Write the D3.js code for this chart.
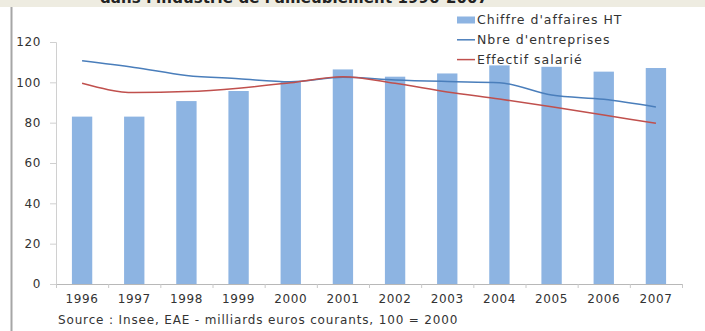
<!DOCTYPE html>
<html>
<head>
<meta charset="utf-8">
<script src="https://cdn.jsdelivr.net/npm/d3@7"></script>
<style>
  body { margin: 0; background: #fff; }
  svg { display: block; font-family: "DejaVu Sans", sans-serif; }
</style>
</head>
<body>
<div id="chart"></div>
<script>
// values (index, 100 = 2000)
const years = ["1996", "1997", "1998", "1999", "2000", "2001", "2002", "2003", "2004", "2005", "2006", "2007"];
const chiffreAffaires = [83, 83, 90.7, 95.7, 100.3, 106.4, 102.8, 104.4, 108.4, 107.7, 105.3, 107.1];
const nbreEntreprises = [110.7, 107.4, 103.4, 101.8, 100.3, 102.5, 101.2, 100.4, 99.8, 93.7, 91.6, 87.8];
const effectifSalarie = [99.5, 94.9, 95.4, 97.1, 99.8, 102.8, 99.5, 95.2, 91.7, 87.9, 83.8, 79.7];
const yTicks = [0, 20, 40, 60, 80, 100, 120];

const legendItems = [
  { label: "Chiffre d'affaires HT", color: "#8db4e2", type: "bar" },
  { label: "Nbre d'entreprises", color: "#4a7ebb", type: "line" },
  { label: "Effectif salarié", color: "#c0504d", type: "line" }
];

// set the dimensions of the chart
const width = 705;
const height = 331;
const margin = { top: 42, right: 23, bottom: 47, left: 56 };

const svg = d3.select("#chart")
  .append("svg")
  .attr("width", width)
  .attr("height", height);

// beige band and the cut-off title at the very top
svg.append("rect")
  .attr("x", 0).attr("y", 0)
  .attr("width", width).attr("height", 7)
  .attr("fill", "#eeece1");

svg.append("text")
  .attr("x", 100)
  .attr("y", 3)
  .attr("font-size", 15)
  .attr("font-weight", "bold")
  .attr("letter-spacing", "0.1px")
  .attr("fill", "#222")
  .text("dans l'industrie de l'ameublement 1996-2007");

// grey frame line on the left
svg.append("line")
  .attr("x1", 11.5).attr("x2", 11.5)
  .attr("y1", 7).attr("y2", height)
  .attr("stroke", "#a6a6a6")
  .attr("stroke-width", 2);

// scales
const x = d3.scaleBand()
  .domain(years)
  .range([margin.left, width - margin.right])
  .padding(0);

const xBar = d3.scaleBand()
  .domain(years)
  .range([margin.left, width - margin.right])
  .paddingInner(0.61)
  .paddingOuter(0.305);

const xEdge = d3.scaleLinear()
  .domain([0, years.length])
  .range([margin.left, width - margin.right]);

const y = d3.scaleLinear()
  .domain([0, 120])
  .range([height - margin.bottom, margin.top]);

// bars
svg.append("g")
  .selectAll("rect")
  .data(years)
  .join("rect")
  .attr("x", d => xBar(d))
  .attr("y", (d, i) => y(chiffreAffaires[i]))
  .attr("width", xBar.bandwidth())
  .attr("height", (d, i) => y(0) - y(chiffreAffaires[i]))
  .attr("fill", "#8db4e2");

// axes
const yAxis = svg.append("g")
  .attr("transform", `translate(${margin.left},0)`)
  .call(d3.axisLeft(y).tickValues(yTicks).tickSize(6).tickPadding(9));
yAxis.select(".domain").attr("stroke", "#d0d0d0");
yAxis.selectAll(".tick line").attr("stroke", "#d0d0d0");
yAxis.selectAll(".tick text")
  .attr("font-size", 12)
  .attr("letter-spacing", "0.6px")
  .attr("fill", "#333")
  .attr("font-family", "DejaVu Sans, sans-serif");

const xTicks = svg.append("g")
  .attr("transform", `translate(0,${y(0)})`)
  .call(d3.axisBottom(xEdge).tickValues(d3.range(years.length + 1)).tickSize(4).tickFormat(""));
xTicks.select(".domain").attr("stroke", "#b8b8b8");
xTicks.selectAll(".tick line").attr("stroke", "#c8c8c8");

const xAxis = svg.append("g")
  .attr("transform", `translate(0,${y(0)})`)
  .call(d3.axisBottom(x).tickSize(0).tickPadding(10));
xAxis.select(".domain").remove();
xAxis.selectAll(".tick text")
  .attr("font-size", 12)
  .attr("letter-spacing", "0.6px")
  .attr("fill", "#333")
  .attr("font-family", "DejaVu Sans, sans-serif");

// lines
const line = d3.line()
  .x((d, i) => x(years[i]) + x.bandwidth() / 2)
  .y(d => y(d))
  .curve(d3.curveMonotoneX);

svg.append("path")
  .datum(nbreEntreprises)
  .attr("d", line)
  .attr("fill", "none")
  .attr("stroke", "#4a7ebb")
  .attr("stroke-width", 1.5);

svg.append("path")
  .datum(effectifSalarie)
  .attr("d", line)
  .attr("fill", "none")
  .attr("stroke", "#c0504d")
  .attr("stroke-width", 1.5);

// legend
const legend = svg.append("g")
  .selectAll("g")
  .data(legendItems)
  .join("g")
  .attr("transform", (d, i) => `translate(457,${20 + i * 19.8})`);

legend.filter(d => d.type === "bar")
  .append("rect")
  .attr("x", 0).attr("y", -3.5)
  .attr("width", 18).attr("height", 7)
  .attr("fill", d => d.color);

legend.filter(d => d.type === "line")
  .append("line")
  .attr("x1", 0).attr("x2", 18)
  .attr("y1", 0).attr("y2", 0)
  .attr("stroke", d => d.color)
  .attr("stroke-width", 1.5);

legend.append("text")
  .attr("x", 20)
  .attr("y", 4)
  .attr("font-size", 12.5)
  .attr("letter-spacing", "1px")
  .attr("fill", "#333")
  .text(d => d.label);

// source note
svg.append("text")
  .attr("x", 58)
  .attr("y", 324)
  .attr("font-size", 12)
  .attr("letter-spacing", "0.85px")
  .attr("fill", "#333")
  .text("Source : Insee, EAE - milliards euros courants, 100 = 2000");
</script>
</body>
</html>
